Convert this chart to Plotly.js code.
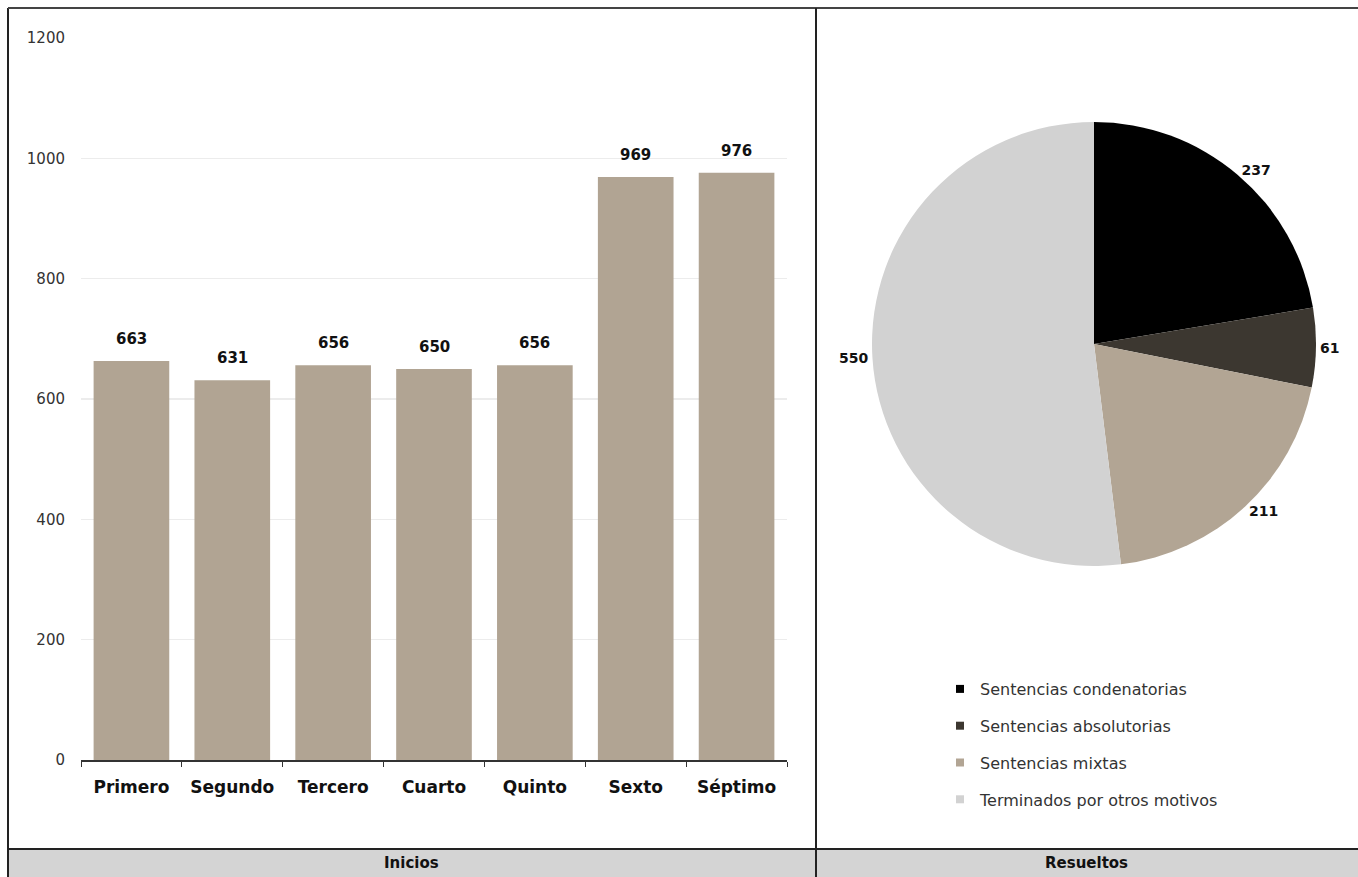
<!DOCTYPE html>
<html>
<head>
<meta charset="utf-8">
<script src="https://cdn.plot.ly/plotly-3.0.1.min.js"></script>
<style>html,body{margin:0;padding:0;background:#fff;}#chart{width:1358px;height:877px;}</style>
</head>
<body>
<div id="chart"></div>
<script>
const categories = ["Primero", "Segundo", "Tercero", "Cuarto", "Quinto", "Sexto", "Séptimo"];
const inicios = [663, 631, 656, 650, 656, 969, 976];
const pieLabels = ["Sentencias condenatorias", "Sentencias absolutorias", "Sentencias mixtas", "Terminados por otros motivos"];
const pieValues = [237, 61, 211, 550];
const pieColors = ["#000000", "#3c3730", "#b2a594", "#d2d2d2"];
const yTicks = [0, 200, 400, 600, 800, 1000, 1200];

const W = 1358, H = 877;
const px = v => v / W;
const py = v => 1 - v / H;
const FONT = "DejaVu Sans, Liberation Sans, Arial, sans-serif";

const traces = [];
traces.push({
  type: "bar",
  x: categories,
  y: inicios,
  marker: {color: "#b1a493"},
  textposition: "none",
  showlegend: false,
  hoverinfo: "x+y"
});
traces.push({
  type: "pie",
  labels: pieLabels,
  values: pieValues,
  marker: {colors: pieColors},
  sort: false,
  direction: "clockwise",
  rotation: 0,
  textposition: "outside",
  texttemplate: "%{value}",
  textfont: {family: FONT, size: 14, color: "#111", weight: "bold"},
  showlegend: false,
  domain: {x: [px(1094 - 262), px(1094 + 262)], y: [py(566), py(122)]}
});
pieLabels.forEach((lab, i) => {
  traces.push({
    type: "scatter",
    mode: "markers",
    x: [null], y: [null],
    xaxis: "x2", yaxis: "y2",
    name: lab,
    legendgroup: "g" + i,
    marker: {symbol: "square", size: 8, color: pieColors[i]},
    showlegend: true,
    hoverinfo: "skip"
  });
});

const shapes = [
  {type: "rect", xref: "paper", yref: "paper", x0: px(8), x1: px(1358), y0: 0, y1: py(849), fillcolor: "#d4d4d4", line: {width: 0}, layer: "below"},
  {type: "line", xref: "paper", yref: "paper", x0: px(8), x1: px(8), y0: 0, y1: py(8), line: {color: "#222", width: 2}},
  {type: "line", xref: "paper", yref: "paper", x0: px(8), x1: px(1358), y0: py(8), y1: py(8), line: {color: "#444", width: 2}},
  {type: "line", xref: "paper", yref: "paper", x0: px(816), x1: px(816), y0: 0, y1: py(8), line: {color: "#222", width: 2}},
  {type: "line", xref: "paper", yref: "paper", x0: px(8), x1: px(1358), y0: py(849), y1: py(849), line: {color: "#222", width: 2}}
];

const annotations = [
  {xref: "paper", yref: "paper", x: px(412), y: py(863), yanchor: "middle", xanchor: "center", text: "Inicios", showarrow: false, font: {family: FONT, size: 15, color: "#111", weight: "bold"}},
  {xref: "paper", yref: "paper", x: px(1086), y: py(863), yanchor: "middle", xanchor: "center", text: "Resueltos", showarrow: false, font: {family: FONT, size: 15, color: "#111", weight: "bold"}}
];
categories.forEach((c, i) => {
  annotations.push({
    xref: "x", yref: "y", x: c, y: inicios[i],
    text: String(inicios[i]), showarrow: false,
    yanchor: "bottom", xanchor: "center", yshift: 11,
    font: {family: FONT, size: 15, color: "#111", weight: "bold"}
  });
});

const layout = {
  width: W, height: H,
  margin: {l: 0, r: 0, t: 0, b: 0},
  paper_bgcolor: "#ffffff",
  plot_bgcolor: "rgba(0,0,0,0)",
  font: {family: FONT, color: "#333"},
  bargap: 0.25,
  xaxis: {
    domain: [px(81), px(787)],
    showline: true, linecolor: "#333", linewidth: 1.5,
    ticks: "outside", tickson: "boundaries", ticklen: 5, tickcolor: "#333",
    tickfont: {family: FONT, size: 17, color: "#111", weight: "bold"},
    ticklabelstandoff: 11,
    showgrid: false, fixedrange: true
  },
  yaxis: {
    domain: [(H - 760) / H, (H - 38) / H],
    range: [0, 1200],
    tickvals: yTicks,
    ticktext: yTicks.map(String),
    showgrid: true, gridcolor: "#ececec", gridwidth: 1.5,
    zeroline: false, showline: false,
    tickfont: {family: FONT, size: 15, color: "#333"},
    ticklabelstandoff: 15,
    fixedrange: true
  },
  xaxis2: {domain: [0.7, 0.71], visible: false, anchor: "y2"},
  yaxis2: {domain: [0.0, 0.01], visible: false, anchor: "x2"},
  legend: {
    x: px(940), y: py(672), xanchor: "left", yanchor: "top",
    traceorder: "grouped", tracegroupgap: 13,
    font: {family: FONT, size: 16, color: "#333"},
    itemwidth: 30,
    bgcolor: "rgba(0,0,0,0)"
  },
  shapes: shapes,
  annotations: annotations
};

Plotly.newPlot("chart", traces, layout, {displayModeBar: false, staticPlot: true});
</script>
</body>
</html>
